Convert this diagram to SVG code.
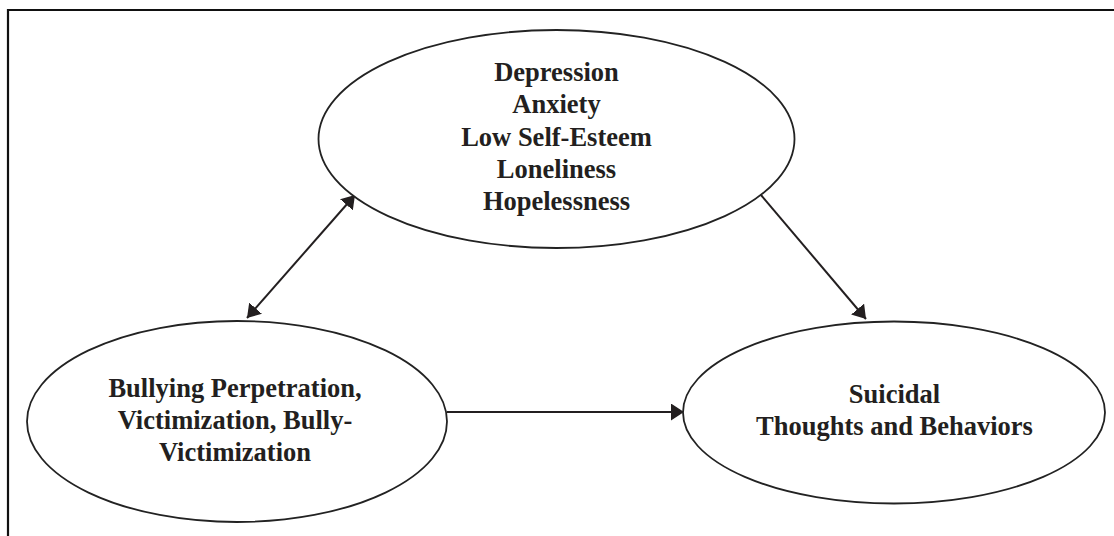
<svg xmlns="http://www.w3.org/2000/svg" width="1114" height="536" viewBox="0 0 1114 536">
<defs>
<style>
.frame{fill:none;stroke:#111;stroke-width:2.2}
.node ellipse{fill:#fff;stroke:#222;stroke-width:1.8}
.node text{font-family:"Liberation Serif","Times New Roman",serif;font-weight:bold;font-size:26.5px;fill:#231f20;text-anchor:middle}
.edge{stroke:#231f20;stroke-width:2;fill:none}
</style>
<marker id="arrow" markerUnits="userSpaceOnUse" viewBox="0 0 13 17" refX="13" refY="8.5" markerWidth="13" markerHeight="17" orient="auto-start-reverse">
<path d="M0,0 L13,8.5 L0,17 z" fill="#231f20"/>
</marker>
</defs>
<rect width="1114" height="536" fill="#fff"/>
<path class="frame" d="M8,536 V10 H1114"/>
<g id="connectors">
<line class="edge" x1="247" y1="318" x2="355" y2="195" marker-start="url(#arrow)" marker-end="url(#arrow)"/>
<line class="edge" x1="761" y1="195" x2="866" y2="319" marker-end="url(#arrow)"/>
<line class="edge" x1="447" y1="412" x2="684" y2="412" marker-end="url(#arrow)"/>
</g>
<g id="node-mediators" class="node">
<ellipse cx="556.5" cy="139" rx="238" ry="109"/>
<text x="556.5" y="81">Depression</text>
<text x="556.5" y="113">Anxiety</text>
<text x="556.5" y="146">Low Self-Esteem</text>
<text x="556.5" y="178">Loneliness</text>
<text x="556.5" y="210">Hopelessness</text>
</g>
<g id="node-bullying" class="node">
<ellipse cx="237" cy="421.5" rx="210" ry="100.5"/>
<text x="235" y="397">Bullying Perpetration,</text>
<text x="235" y="429">Victimization, Bully-</text>
<text x="235" y="461">Victimization</text>
</g>
<g id="node-suicidal" class="node">
<ellipse cx="894" cy="412.5" rx="211" ry="91"/>
<text x="894.5" y="403">Suicidal</text>
<text x="894.5" y="435">Thoughts and Behaviors</text>
</g>
</svg>
